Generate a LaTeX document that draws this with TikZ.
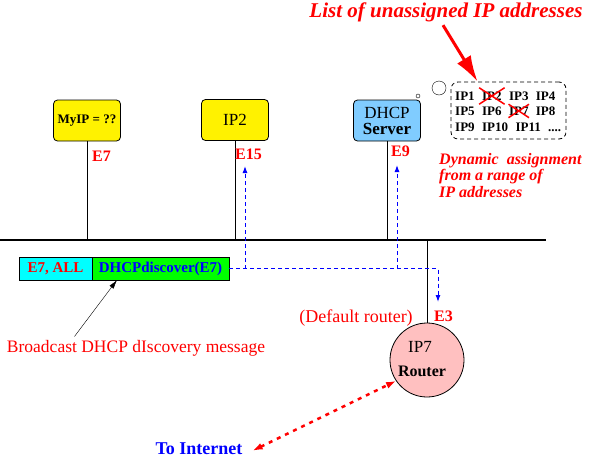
\documentclass[tikz,border=0pt]{standalone}
\usepackage{fontspec}
\setmainfont{Liberation Serif}
\usetikzlibrary{matrix,positioning,shapes.misc,arrows.meta}
\definecolor{dhcpblue}{RGB}{128,204,255}
\definecolor{rtrpink}{RGB}{255,192,192}
\definecolor{pktcyan}{RGB}{0,255,255}
\definecolor{pktgreen}{RGB}{0,255,0}
\newcommand\fsz[2]{\fontsize{#1}{#2}\selectfont}
\tikzset{
    host/.style={draw, rounded corners=4pt, fill=yellow, minimum width=67pt, minimum height=41pt, line width=0.8pt, align=center},
    elab/.style={text=red, font=\fsz{16}{16}\bfseries, inner sep=1pt, anchor=west},
    ipn/.style={inner sep=0, font=\fsz{13}{13}\bfseries},
    xmark/.style={cross out, draw=red, line width=1.5pt, inner sep=0},
    msg/.style={blue, line width=1pt, dash pattern=on 4pt off 3pt, -{Latex[length=7pt,width=5pt]}}
}

\begin{document}
\begin{tikzpicture}[x=1pt, y=-1pt, node distance=7pt]
    \useasboundingbox (0,0) rectangle (593,458);
    \coordinate (busW) at (0,240);
    \coordinate (busE) at (546,240);
    \draw[line width=2pt] (busW) -- (busE);

    \node[host, font=\fsz{13}{13}\bfseries] (myip) at (87,120.5) {MyIP = ??};
    \node[host, font=\fsz{17}{17}] (iptwo) at (235,120) {IP2};
    \node[host, fill=dhcpblue, font=\fsz{17}{17}] (dhcp) at (387,120.5) {DHCP\\[-1pt]\bfseries Server};
    \foreach \h in {myip, iptwo, dhcp}
        \draw[line width=0.8pt] (\h) -- (\h |- busW);
    \node[elab] (lE7) at (91,156) {E7};
    \node[elab] (lE15) at (234,154) {E15};
    \node[elab] (lE9) at (390,151) {E9};

    \node[circle, draw, inner sep=0, minimum size=4pt] (dot) at (418,96) {};
    \node[circle, draw, minimum size=14pt] (bub) at (439,88) {};
    \node[draw, line width=0.8pt, dash pattern=on 4pt off 3pt, rounded corners=7pt, minimum width=115pt, minimum height=57pt] (pool) at (508.5,110.5) {};
    \node[ipn, anchor=west] (a1) at (455,96) {IP1};
    \node[ipn, base right=of a1] (a2) {IP2};
    \node[ipn, base right=of a2] (a3) {IP3};
    \node[ipn, base right=of a3] (a4) {IP4};
    \node[ipn, anchor=west] (b1) at (455,111) {IP5};
    \node[ipn, base right=of b1] (b2) {IP6};
    \node[ipn, base right=of b2] (b3) {IP7};
    \node[ipn, base right=of b3] (b4) {IP8};
    \node[ipn, anchor=west] (c1) at (455,127) {IP9};
    \node[ipn, base right=of c1] (c2) {IP10};
    \node[ipn, base right=of c2] (c3) {IP11};
    \node[ipn, base right=of c3] (c4) {....};
    \node[xmark, minimum width=24pt, minimum height=15pt] (xa2) at (a2) {};
    \node[xmark, minimum width=19pt, minimum height=12pt] (xb3) at (b3) {};

    \node[text=red, font=\fsz{21}{21}\bfseries\itshape] (title) at (446,12) {List of unassigned IP addresses};
    \draw[red, line width=3pt, -{Latex[length=26pt,width=16pt]}] ([xshift=-3pt]title.south) -- ([xshift=27pt]pool.north west);
    \node[text=red, font=\fsz{16}{16.5}\bfseries\itshape, align=left, anchor=north west, inner sep=0] (dyn) at (439,153) {Dynamic~~assignment\\from a range of\\IP addresses};

    \node[circle, draw, fill=rtrpink, minimum size=74pt, line width=0.8pt] (rtr) at (427,360) {};
    \node[font=\fsz{17}{17}] (rtrip) at (420,347) {IP7};
    \node[font=\fsz{16}{16}\bfseries] (rtrname) at (422,371) {Router};
    \draw[line width=0.8pt] (rtr) -- (rtr |- busW);
    \node[text=red, font=\fsz{18}{18}] (dflt) at (356,318) {(Default router)};
    \node[elab] (lE3) at (433,316) {E3};

    \matrix (pkt) [matrix of nodes,
        nodes={draw, minimum height=23pt, outer sep=0, anchor=center, font=\fsz{15}{15}\bfseries},
        column 1/.style={nodes={fill=pktcyan, text=red, minimum width=73pt}},
        column 2/.style={nodes={fill=pktgreen, text=blue, minimum width=137pt}},
        column sep=-\pgflinewidth
      ] at (124,268.5)
      {
        E7, ALL & DHCPdiscover(E7) \\
      };

    \coordinate (e3tip) at (438,302);
    \coordinate (e15tip) at (245,166);
    \coordinate (e9tip) at (397,165);
    \draw[msg] (pkt-1-2.east) -| (e3tip);
    \draw[msg] (e15tip |- pkt-1-2.east) -- (e15tip);
    \draw[msg] (e9tip |- pkt-1-2.east) -- (e9tip);

    \node[text=red, font=\fsz{17.5}{17.5}] (bcast) at (136,348) {Broadcast DHCP dIscovery message};
    \draw[-{Latex[length=9pt,width=5pt]}] ([xshift=71pt]bcast.north west) -- ([xshift=25pt]pkt-1-2.south west);

    \node[text=blue, font=\fsz{18}{18}\bfseries, inner sep=0, anchor=base] (inet) at (199,454.5) {To Internet};
    \draw[red, line width=2.5pt, dash pattern=on 4pt off 5pt, {Latex[length=10pt,width=7pt]}-{Latex[length=10pt,width=7pt]}] ([shift={(10pt,-2pt)}]inet.east) -- (rtr.214);
\end{tikzpicture}
\end{document}
